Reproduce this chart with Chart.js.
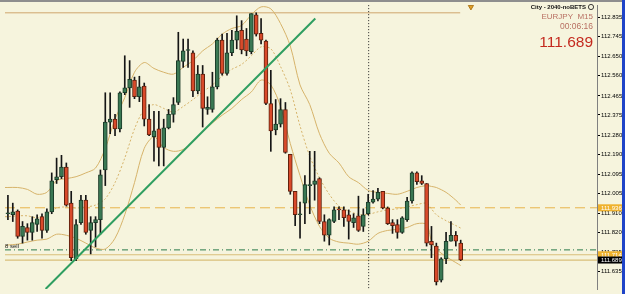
<!DOCTYPE html>
<html><head><meta charset="utf-8">
<script src="https://cdn.jsdelivr.net/npm/chart.js@4.4.0/dist/chart.umd.min.js"></script>
<style>
html,body{margin:0;padding:0;background:#f6f4dd;}
#wrap{position:relative;width:625px;height:294px;overflow:hidden;background:#f6f4dd;}
#c{position:absolute;left:0;top:0;}
#topbar{position:absolute;left:0;top:0;width:622px;height:2px;background:#8e8e8e;}
#blue{position:absolute;right:0;top:0;width:3px;height:294px;background:#1f44c8;}
</style></head><body>
<div id="wrap"><canvas id="c" width="622" height="294"></canvas><div id="topbar"></div><div id="blue"></div></div>
<script>
// ---- candles (EURJPY M15) ----
const opens = [111.908,111.903,111.921,111.801,111.843,111.820,111.857,111.894,111.829,111.917,
112.069,112.083,112.129,111.958,111.695,111.866,111.972,111.829,111.866,111.880,
112.115,112.341,112.355,112.309,112.480,112.503,112.540,112.461,112.512,112.355,
112.272,112.309,112.221,112.314,112.378,112.434,112.628,112.680,112.669,112.489,
112.568,112.401,112.401,112.508,112.729,112.572,112.669,112.729,112.775,112.734,
112.674,112.849,112.761,112.724,112.429,112.304,112.332,112.401,112.189,112.014,
111.903,111.958,112.041,112.046,112.074,111.871,111.806,111.871,111.931,111.926,
111.903,111.866,111.898,111.848,111.908,111.963,111.977,112.014,111.935,111.866,
111.857,111.820,111.880,111.968,112.101,112.064,112.051,111.778,111.755,111.594,
111.695,111.778,111.806,111.769];
const highs = [111.995,111.958,111.926,111.871,111.861,111.894,111.903,111.908,111.931,112.101,
112.171,112.184,112.148,112.014,111.880,111.995,111.995,111.894,111.894,112.115,
112.480,112.480,112.378,112.484,112.655,112.632,112.554,112.558,112.526,112.424,
112.392,112.392,112.355,112.401,112.457,112.766,112.734,112.734,112.678,112.609,
112.609,112.461,112.577,112.738,112.757,112.761,112.775,112.844,112.821,112.784,
112.854,112.858,112.831,112.729,112.586,112.448,112.452,112.434,112.189,112.014,
111.963,112.088,112.203,112.203,112.078,111.903,111.884,111.940,111.940,111.940,
111.926,111.908,111.991,111.931,112.000,112.018,112.028,112.014,111.940,111.880,
111.880,111.894,111.986,112.106,112.106,112.088,112.051,111.848,111.769,111.700,
111.820,111.871,111.824,111.783];
const lows = [111.880,111.871,111.792,111.769,111.783,111.783,111.824,111.792,111.820,111.908,
112.051,112.074,111.944,111.686,111.686,111.857,111.811,111.718,111.751,111.811,
112.041,112.286,112.277,112.295,112.471,112.411,112.452,112.438,112.323,112.277,
112.157,112.134,112.134,112.309,112.341,112.424,112.600,112.600,112.461,112.475,
112.318,112.378,112.388,112.498,112.563,112.563,112.655,112.688,112.664,112.655,
112.664,112.748,112.711,112.424,112.203,112.281,112.318,112.194,112.000,111.852,
111.792,111.861,111.908,111.972,111.861,111.778,111.760,111.866,111.880,111.848,
111.788,111.843,111.824,111.824,111.903,111.958,111.968,111.931,111.857,111.815,
111.792,111.815,111.871,111.958,112.046,112.046,111.755,111.700,111.571,111.585,
111.672,111.778,111.755,111.686];
const closes = [111.912,111.917,111.801,111.848,111.820,111.866,111.884,111.829,111.917,112.064,
112.083,112.129,111.949,111.700,111.857,111.972,111.820,111.866,111.880,112.092,
112.341,112.355,112.309,112.480,112.503,112.544,112.461,112.508,112.355,112.281,
112.300,112.221,112.314,112.378,112.424,112.632,112.678,112.681,112.489,112.568,
112.406,112.411,112.508,112.729,112.572,112.669,112.729,112.771,112.683,112.678,
112.854,112.757,112.729,112.429,112.300,112.332,112.401,112.198,112.014,111.903,
111.908,112.046,112.046,112.064,111.871,111.806,111.880,111.926,111.926,111.889,
111.871,111.889,111.829,111.903,111.963,111.977,112.009,111.935,111.861,111.852,
111.820,111.889,111.968,112.101,112.060,112.051,111.769,111.760,111.585,111.695,
111.778,111.806,111.778,111.689];

// ---- Bollinger bands (bar index, price) ----
const bandIdx = [-0.6,0,2,4,6,8,10,12,14,16,18,20,22,24,26,28,30,32,34,36,38,40,42,44,46,48,50,52,54,56,58,60,62,64,66,68,70,72,74,76,78,80,82,84,86,87,88,90,92,93];
const bandUpper = [112.032,112.032,112.032,112.023,112.000,112.009,112.064,112.074,112.083,112.101,112.124,112.217,112.355,112.457,112.577,112.623,112.595,112.577,112.568,112.600,112.632,112.678,112.711,112.757,112.784,112.798,112.849,112.886,112.877,112.807,112.701,112.517,112.424,112.286,112.194,112.148,112.083,112.055,112.018,112.009,112.004,112.000,112.014,112.032,112.041,112.037,112.032,112.009,111.972,111.949];
const bandMiddle = [111.894,111.894,111.898,111.898,111.889,111.903,111.935,111.940,111.935,111.940,111.949,111.979,112.055,112.171,112.309,112.401,112.424,112.406,112.388,112.415,112.448,112.484,112.517,112.558,112.591,112.614,112.655,112.697,112.688,112.604,112.494,112.323,112.180,112.078,112.000,111.944,111.921,111.905,111.905,111.917,111.926,111.931,111.940,111.951,111.958,111.931,111.903,111.875,111.852,111.840];
const bandLower = [111.755,111.760,111.764,111.774,111.783,111.788,111.811,111.806,111.792,111.769,111.746,111.741,111.792,111.903,112.055,112.217,112.272,112.221,112.203,112.212,112.249,112.295,112.337,112.374,112.406,112.448,112.484,112.540,112.517,112.415,112.240,112.088,111.949,111.848,111.792,111.774,111.769,111.764,111.778,111.815,111.829,111.834,111.843,111.861,111.857,111.778,111.741,111.705,111.677,111.663];

// ---- levels / objects ----
const trendIdx = [7.74, 63.14];
const trendPrice = [111.552, 112.831];
const topLevel = 112.858, topLevelEnd = 92.9;
const dashedLevel = 111.936;
const sellLevel = 111.737;
const tanLevels = [111.714, 111.689];
const cursorIdx = 74.1;
const markerIdx = 95.1, markerPrice = 112.886;
const tickVals = [112.835,112.745,112.650,112.560,112.465,112.375,112.280,112.190,112.095,112.005,111.910,111.820,111.725,111.635];
const boxVals = [111.936, 111.714, 111.689];
const boxTexts = ['111.936','111.714','111.689'];
const boxColors = ['#efb22e','#efb22e','#000000'];

const X_MIN = -0.6, X_MAX = 121, Y_MIN = 111.552, Y_MAX = 112.895;
const FONT = 'Liberation Sans';

const up = (i) => closes[i] >= opens[i];
const hline = (v, color, dash, w, x0 = X_MIN, x1 = X_MAX, order = 9) => ({
  type:'line', data:[{x:x0,y:v},{x:x1,y:v}], borderColor:color, borderWidth:w||1,
  borderDash:dash||[], pointRadius:0, order
});
const band = (vals, dash) => ({
  type:'line', data: bandIdx.map((x,i)=>({x, y:vals[i]})), borderColor:'#d6b36a',
  borderWidth:1, borderDash:dash||[], pointRadius:0, tension:0.3, order:7
});

const annot = {
  id:'annot',
  afterDraw(chart){
    const ctx = chart.ctx, ys = chart.scales.y, a = chart.chartArea;
    ctx.save();
    // "8 sell"
    ctx.font = '6px ' + FONT; ctx.fillStyle = '#222'; ctx.textAlign = 'left'; ctx.textBaseline = 'alphabetic';
    ctx.fillText('8 sell', a.left, ys.getPixelForValue(sellLevel) - 1.5);
    // price boxes on axis
    boxVals.forEach((v,i)=>{
      const py = ys.getPixelForValue(v);
      ctx.fillStyle = boxColors[i];
      ctx.fillRect(a.right + 1, py - 3.5, 24, 7);
      ctx.fillStyle = '#ffffff';
      ctx.font = '6px ' + FONT; ctx.textBaseline = 'middle'; ctx.textAlign = 'left';
      ctx.fillText(boxTexts[i], a.right + 4, py + 0.5);
    });
    // info block
    const rx = a.right - 4;
    ctx.textAlign = 'right'; ctx.textBaseline = 'middle';
    ctx.fillStyle = '#111'; ctx.font = 'bold 6px ' + FONT;
    ctx.fillText('City - 2040-noBETS', rx - 7, 7);
    ctx.beginPath(); ctx.arc(rx - 2, 7, 2.6, 0, Math.PI*2); ctx.strokeStyle = '#111'; ctx.lineWidth = 0.8; ctx.stroke();
    ctx.fillStyle = '#b86f62'; ctx.font = '8px ' + FONT;
    ctx.fillText('EURJPY  M15', rx, 16.5);
    ctx.font = '8.5px ' + FONT;
    ctx.fillText('00:06:16', rx, 26.5);
    ctx.fillStyle = '#c42a1f'; ctx.font = '15.5px ' + FONT;
    ctx.fillText('111.689', rx, 43);
    ctx.restore();
  }
};

new Chart(document.getElementById('c'), {
  type:'bar',
  data:{ datasets:[
    { type:'line', data: trendIdx.map((x,i)=>({x, y:trendPrice[i]})), borderColor:'#2f9e60', borderWidth:2, pointRadius:0, order:1 },
    { type:'bar', data: opens.map((o,i)=>({x:i, y:[o, closes[i]]})),
      backgroundColor: opens.map((o,i)=> up(i) ? '#3a7853' : '#d94a2a'),
      borderColor: opens.map((o,i)=> up(i) ? '#1b3b28' : '#5e200d'),
      borderWidth:1, borderSkipped:false, barThickness:4, minBarLength:1, grouped:false, order:3 },
    { type:'bar', data: lows.map((l,i)=>({x:i, y:[l, highs[i]]})),
      backgroundColor:'#151515', borderWidth:0, barThickness:1, grouped:false, order:4 },
    band(bandUpper), band(bandMiddle,[2,2]), band(bandLower),
    { type:'line', data:[{x:cursorIdx,y:111.4},{x:cursorIdx,y:113.0}], borderColor:'#222', borderWidth:1, borderDash:[1,2], pointRadius:0, order:8 },
    hline(topLevel, '#cfa56e', [], 1, X_MIN, topLevelEnd),
    hline(dashedLevel, '#e8b44a', [10,5], 1),
    hline(sellLevel, '#2b7a4b', [6,3,1,3], 1),
    hline(tanLevels[0], '#d9bf78', [], 1.2),
    hline(tanLevels[1], '#d9bf78', [], 1.2),
    { type:'line', data:[{x:markerIdx,y:markerPrice}], pointStyle:'triangle', rotation:180, pointRadius:3,
      pointBackgroundColor:'#e2a22a', pointBorderColor:'#b07818', showLine:false, order:2 }
  ]},
  options:{
    responsive:false, animation:false,
    layout:{ padding:{ top:3, left:0, right:0, bottom:0 } },
    plugins:{ legend:{display:false}, tooltip:{enabled:false} },
    scales:{
      x:{ type:'linear', min:X_MIN, max:X_MAX, display:false, offset:false, grid:{offset:false} },
      y:{ type:'linear', position:'right', min:Y_MIN, max:Y_MAX,
          afterBuildTicks: s => { s.ticks = tickVals.map(v=>({value:v})); },
          afterFit: s => { s.width = 25; },
          ticks:{ font:{family:FONT, size:6}, color:'#000', padding:1, autoSkip:false, maxRotation:0,
                  callback: v => Number(v).toFixed(3) },
          grid:{ drawOnChartArea:false, drawTicks:true, tickLength:3, color:'#000' },
          border:{ display:true, color:'#808080', width:1 } }
    }
  },
  plugins:[annot]
});
</script>
</body></html>
